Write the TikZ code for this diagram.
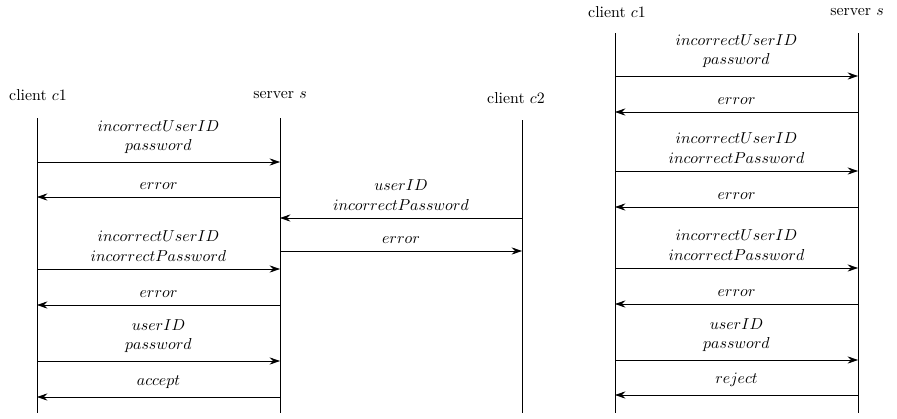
\documentclass[tikz,border=0pt]{standalone}
\usetikzlibrary{arrows.meta}
\begin{document}
\begin{tikzpicture}[x=0.63pt,y=-0.63pt,
    msg/.style={-{Stealth[length=6.5pt,width=4.5pt]}},
    lbl/.style={above=1.5pt, align=center},
    head/.style={inner sep=1pt}]
  \useasboundingbox (0,0) rectangle (897,418);
  % left run: c1 and c2 share server s
  \node[head] (c1) at (38,95) {client $c1$};
  \node[head] (s)  at (280,95) {server $s$};
  \node[head] (c2) at (516,98) {client $c2$};
  \coordinate (c1top) at (37,118);  \coordinate (c1bot) at (37,413);
  \coordinate (stop)  at (280,118); \coordinate (sbot)  at (280,413);
  \coordinate (c2top) at (522,120); \coordinate (c2bot) at (522,413);
  \draw (c1top) -- (c1bot);
  \draw (stop) -- (sbot);
  \draw (c2top) -- (c2bot);
  \draw[msg] (c1top |- 0,162) -- node[lbl] {$incorrectUserID$\\$password$} (stop |- 0,162);
  \draw[msg] (stop |- 0,197) -- node[lbl] {$error$} (c1top |- 0,197);
  \draw[msg] (c2top |- 0,218) -- node[lbl] {$userID$\\$incorrectPassword$} (stop |- 0,218);
  \draw[msg] (stop |- 0,251) -- node[lbl] {$error$} (c2top |- 0,251);
  \draw[msg] (c1top |- 0,269) -- node[lbl] {$incorrectUserID$\\$incorrectPassword$} (stop |- 0,269);
  \draw[msg] (stop |- 0,305) -- node[lbl] {$error$} (c1top |- 0,305);
  \draw[msg] (c1top |- 0,361) -- node[lbl] {$userID$\\$password$} (stop |- 0,361);
  \draw[msg] (stop |- 0,397) -- node[lbl] {$accept$} (c1top |- 0,397);
  % right run: c1 alone
  \node[head] (rc1) at (617,12) {client $c1$};
  \node[head] (rs)  at (857,12) {server $s$};
  \coordinate (rc1top) at (615,33); \coordinate (rc1bot) at (615,413);
  \coordinate (rstop)  at (858,33); \coordinate (rsbot)  at (858,413);
  \draw (rc1top) -- (rc1bot);
  \draw (rstop) -- (rsbot);
  \draw[msg] (rc1top |- 0,76) -- node[lbl] {$incorrectUserID$\\$password$} (rstop |- 0,76);
  \draw[msg] (rstop |- 0,112) -- node[lbl] {$error$} (rc1top |- 0,112);
  \draw[msg] (rc1top |- 0,171) -- node[lbl] {$incorrectUserID$\\$incorrectPassword$} (rstop |- 0,171);
  \draw[msg] (rstop |- 0,207) -- node[lbl] {$error$} (rc1top |- 0,207);
  \draw[msg] (rc1top |- 0,268) -- node[lbl] {$incorrectUserID$\\$incorrectPassword$} (rstop |- 0,268);
  \draw[msg] (rstop |- 0,304) -- node[lbl] {$error$} (rc1top |- 0,304);
  \draw[msg] (rc1top |- 0,360) -- node[lbl] {$userID$\\$password$} (rstop |- 0,360);
  \draw[msg] (rstop |- 0,395) -- node[lbl] {$reject$} (rc1top |- 0,395);
\end{tikzpicture}
\end{document}
